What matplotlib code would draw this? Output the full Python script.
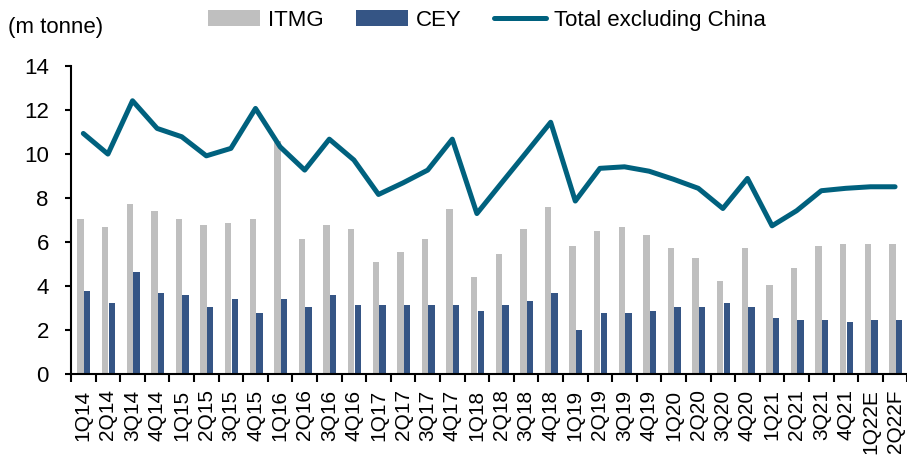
import numpy as np
import matplotlib
matplotlib.use("Agg")
import matplotlib.pyplot as plt

plt.rcParams['font.family'] = ['Liberation Sans', 'DejaVu Sans']

# Quarterly coal output, m tonne
quarters = ['1Q14', '2Q14', '3Q14', '4Q14', '1Q15', '2Q15', '3Q15', '4Q15',
            '1Q16', '2Q16', '3Q16', '4Q16', '1Q17', '2Q17', '3Q17', '4Q17',
            '1Q18', '2Q18', '3Q18', '4Q18', '1Q19', '2Q19', '3Q19', '4Q19',
            '1Q20', '2Q20', '3Q20', '4Q20', '1Q21', '2Q21', '3Q21', '4Q21',
            '1Q22E', '2Q22F']
itmg = [7.05, 6.67, 7.71, 7.42, 7.04, 6.76, 6.85, 7.04,
        10.6, 6.11, 6.76, 6.58, 5.08, 5.55, 6.11, 7.51,
        4.42, 5.44, 6.57, 7.60, 5.82, 6.49, 6.66, 6.29,
        5.73, 5.26, 4.22, 5.73, 4.04, 4.80, 5.82, 5.91,
        5.91, 5.91]
cey = [3.77, 3.21, 4.61, 3.68, 3.58, 3.02, 3.39, 2.74,
       3.39, 3.02, 3.58, 3.11, 3.11, 3.11, 3.11, 3.11,
       2.83, 3.11, 3.30, 3.66, 1.97, 2.74, 2.74, 2.83,
       3.02, 3.02, 3.21, 3.02, 2.55, 2.46, 2.46, 2.37,
       2.46, 2.46]
total_ex_china = [10.94, 10.0, 12.43, 11.17, 10.79, 9.92, 10.26, 12.08,
                  10.33, 9.27, 10.68, 9.73, 8.16, 8.69, 9.27, 10.68,
                  7.29, 8.68, 10.06, 11.45, 7.86, 9.35, 9.42, 9.22,
                  8.85, 8.44, 7.52, 8.89, 6.73, 7.42, 8.33, 8.44,
                  8.51, 8.51]

gray = '#BFBFBF'
navy = '#355585'
teal = '#00617E'

fig = plt.figure(figsize=(9.07, 4.57), dpi=100)
ax = fig.add_axes([0.0783, 0.1827, 0.9221, 0.6722])

x = np.arange(len(quarters))
b1 = ax.bar(x - 0.11, itmg, width=0.26, color=gray, label='ITMG')
b2 = ax.bar(x + 0.16, cey, width=0.26, color=navy, label='CEY')
ln, = ax.plot(x, total_ex_china, color=teal, linewidth=3.6,
              solid_joinstyle='round', solid_capstyle='round',
              label='Total excluding China')

ax.set_xlim(-0.5, len(quarters) - 0.5)
ax.set_ylim(0, 14)
ax.set_yticks(np.arange(0, 15, 2))

# labels at category centres, tick marks at category boundaries
ax.set_xticks(x)
ax.set_xticklabels(quarters, rotation=90, va='top', ha='center')
ax.set_xticks(np.arange(-0.5, len(quarters)), minor=True)
ax.tick_params(axis='x', which='major', length=0, pad=11.5, labelsize=15)
ax.tick_params(axis='x', which='minor', length=6, width=1.5, direction='out')
ax.tick_params(axis='y', length=4, width=1.5, direction='out', pad=12,
               labelsize=16)

for s in ['top', 'right']:
    ax.spines[s].set_visible(False)
for s in ['left', 'bottom']:
    ax.spines[s].set_linewidth(1.5)

fig.legend(handles=[b1, b2, ln], loc='center left',
           bbox_to_anchor=(208 / 907, 1 - 20.5 / 457),
           ncol=3, frameon=False, fontsize=16, borderpad=0, borderaxespad=0,
           handlelength=2.34, handletextpad=0.36, columnspacing=1.45)

fig.text(8 / 907, 1 - 27 / 457, '(m tonne)', fontsize=16, va='center',
         ha='left')

fig.savefig('out.png', dpi=100)
